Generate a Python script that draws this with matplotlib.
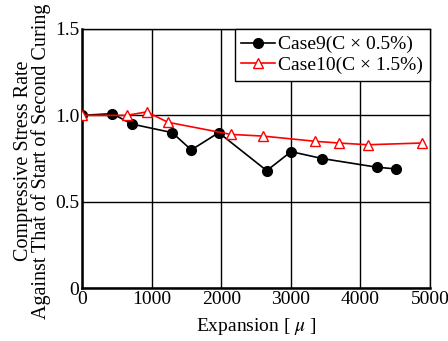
import matplotlib
matplotlib.use('Agg')
import matplotlib.pyplot as plt

plt.rcParams['font.family'] = ['Liberation Serif', 'DejaVu Serif']
plt.rcParams['mathtext.fontset'] = 'stix'

# データ
case9_x = [0, 435, 714, 1297, 1570, 1964, 2654, 3003, 3453, 4234, 4511]
case9_y = [1.00, 1.01, 0.95, 0.90, 0.80, 0.90, 0.68, 0.79, 0.75, 0.70, 0.69]
case10_x = [0, 642, 929, 1236, 2136, 2605, 3348, 3688, 4105, 4881]
case10_y = [1.00, 1.00, 1.02, 0.96, 0.89, 0.88, 0.85, 0.84, 0.83, 0.84]
x_ticks = [0, 1000, 2000, 3000, 4000, 5000]
y_ticks = [0, 0.5, 1.0, 1.5]
y_labels = ['0', '0.5', '1.0', '1.5']

fig = plt.figure(figsize=(4.48, 3.41), dpi=100)
ax = fig.add_axes([0.183, 0.155, 0.777, 0.76])

ax.plot(case9_x, case9_y, color='black', lw=1.2, marker='o', ms=7,
        label='Case9(C \u00d7 0.5%)', zorder=3)
ax.plot(case10_x, case10_y, color='red', lw=1.2, marker='^', ms=7.5,
        markerfacecolor='white', markeredgecolor='red',
        label='Case10(C \u00d7 1.5%)', zorder=3)

ax.set_xlim(0, 5000)
ax.set_ylim(0, 1.5)
ax.set_xticks(x_ticks)
ax.set_yticks(y_ticks)
ax.set_yticklabels(y_labels)
ax.tick_params(length=0, labelsize=14, pad=2)
ax.grid(True, color='black', lw=1.0)
for s in ['left', 'bottom']:
    ax.spines[s].set_linewidth(1.8)
for s in ['top', 'right']:
    ax.spines[s].set_linewidth(1.0)

ax.set_xlabel('Expansion [ $\\mu$ ]', fontsize=14, labelpad=6)
ax.set_ylabel('Compressive Stress Rate\nAgainst That of Start of Second Curing',
              fontsize=14.5, linespacing=0.85, labelpad=0)
ax.yaxis.set_label_coords(-0.09, 0.49)

leg = ax.legend(loc='upper right', fontsize=14, frameon=True, fancybox=False,
                edgecolor='black', framealpha=1, borderaxespad=0,
                handlelength=1.7, handletextpad=0.2, labelspacing=0.15,
                borderpad=0.35)
leg.get_frame().set_linewidth(1.0)

fig.savefig('out.png', dpi=100)
